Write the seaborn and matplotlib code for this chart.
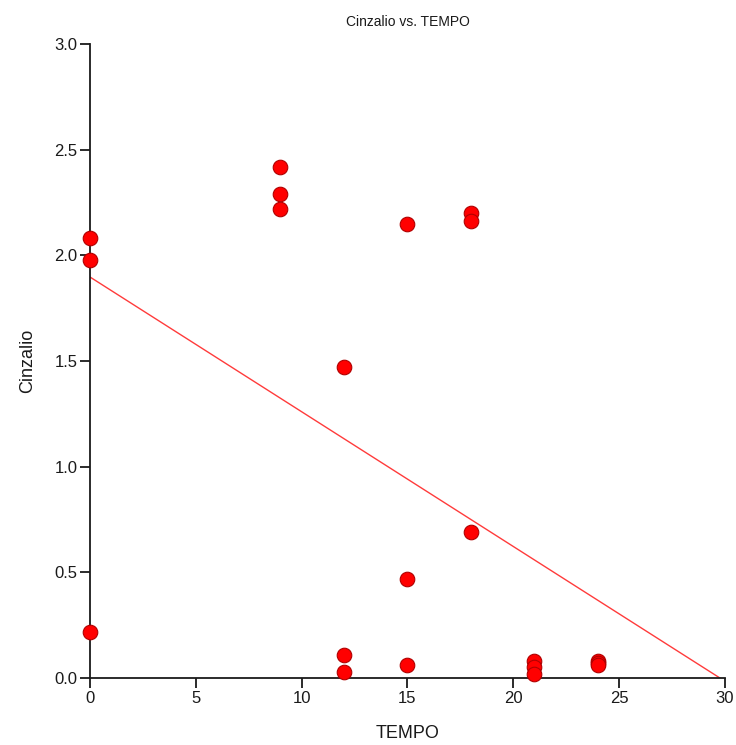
import matplotlib
matplotlib.use("Agg")
import matplotlib.pyplot as plt
import seaborn as sns
import pandas as pd

# Observations: time and measured Cinzalio (three replicates per time)
tempo = [0, 0, 0, 9, 9, 9, 12, 12, 12, 15, 15, 15, 18, 18, 18, 21, 21, 21, 24, 24, 24]
cinzalio = [2.08, 1.98, 0.22, 2.42, 2.29, 2.22, 1.47, 0.11, 0.03, 2.15, 0.47, 0.06,
            2.20, 2.16, 0.69, 0.08, 0.05, 0.02, 0.08, 0.07, 0.06]

x_ticks = [0, 5, 10, 15, 20, 25, 30]
y_ticks = [0.0, 0.5, 1.0, 1.5, 2.0, 2.5, 3.0]

df = pd.DataFrame({"TEMPO": tempo, "Cinzalio": cinzalio})

sns.set_style("white")
plt.rcParams["font.family"] = ["Liberation Sans", "DejaVu Sans"]

fig = plt.figure(figsize=(7.36, 7.45), dpi=100)
ax = fig.add_axes([0.1223, 0.0899, 0.8627, 0.8511])

# limits first so the fitted line spans the full x range
ax.set_xlim(0, 30)
ax.set_ylim(0, 3.0)

sns.regplot(data=df, x="TEMPO", y="Cinzalio", ax=ax, ci=None, truncate=False,
            scatter=False, line_kws=dict(color="#ff3b3b", lw=1.0, zorder=2))

sns.scatterplot(data=df, x="TEMPO", y="Cinzalio", ax=ax, s=110, color="#ff0000",
                edgecolor="#b00000", linewidth=0.8, zorder=3, clip_on=False)

ax.set_xlim(0, 30)
ax.set_ylim(0, 3.0)
ax.set_xticks(x_ticks)
ax.set_yticks(y_ticks)
ax.set_xticklabels([str(t) for t in x_ticks])
ax.set_yticklabels([f"{t:.1f}" for t in y_ticks])

for side in ("top", "right"):
    ax.spines[side].set_visible(False)
for side in ("left", "bottom"):
    ax.spines[side].set_color("#1a1a1a")
    ax.spines[side].set_linewidth(1.3)

ax.tick_params(axis="both", which="major", direction="out", length=7, width=1.3,
               color="#1a1a1a", labelsize=12, labelcolor="#1a1a1a", pad=2,
               bottom=True, left=True)

ax.set_title("Cinzalio vs. TEMPO", fontsize=10, color="#1a1a1a", pad=13)
ax.set_xlabel("TEMPO", fontsize=13, color="#1a1a1a", labelpad=14)
ax.set_ylabel("Cinzalio", fontsize=13, color="#1a1a1a", labelpad=13)

fig.savefig("out.png", dpi=100)
